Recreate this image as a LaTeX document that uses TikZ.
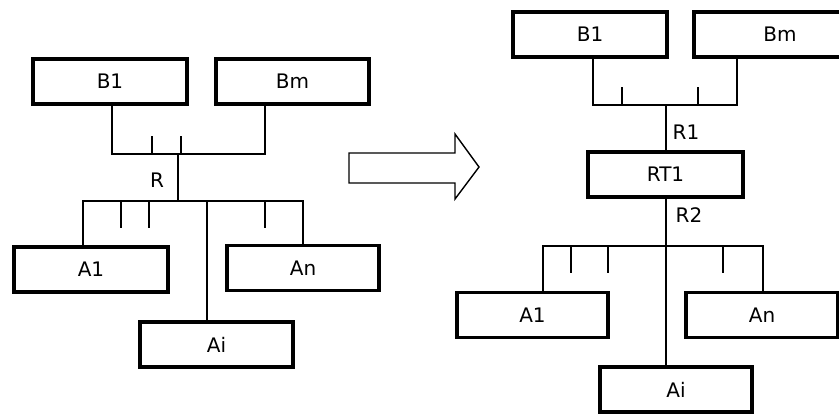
\documentclass[tikz,border=0pt]{standalone}
\usepackage{fontspec}
\newfontfamily\diagfont{DejaVu Sans}
\usetikzlibrary{positioning, calc}
\tikzset{
  box/.style={draw, line width=3.2pt, minimum height=45pt, minimum width=#1,
              inner sep=0pt, font=\diagfont\fontsize{20}{24}\selectfont},
  box/.default=153pt,
  bus/.style={line width=1.2pt},
  stub/.style={line width=1.2pt},
  lbl/.style={font=\diagfont\fontsize{20}{24}\selectfont, inner sep=0pt},
}
\begin{document}
\begin{tikzpicture}[x=1pt, y=-1pt]
  \clip (0,0) rectangle (839,413);
  % before: one relay R between the B side and the A side
  \node[box=154pt] (lb1) at (110,81.5)  {B1};
  \node[box]       (lbm) at (292.5,81.5) {Bm};
  \node[box=154pt] (la1) at (91,269.5)  {A1};
  \node[box=152pt] (lan) at (303,268)   {An};
  \node[box]       (lai) at (216.5,344.5) {Ai};
  \coordinate (lbusB) at (178,154);
  \coordinate (lbusA) at (178,201);
  \draw[bus] ([xshift=2pt]lb1.south) |- (lbusB) -| ([xshift=-27.5pt]lbm.south);
  \foreach \dx in {-26,3}
    \draw[stub] ([xshift=\dx pt]lbusB) -- ++(0,-18);
  \draw[bus] (lbusB) -- (lbusA);
  \node[lbl] (lr) at (157,180) {R};
  \draw[bus] ([xshift=-8pt]la1.north) |- (lbusA) -| (lan.north);
  \foreach \dx in {-57,-29,87}
    \draw[stub] ([xshift=\dx pt]lbusA) -- ++(0,27);
  \draw[bus] ([xshift=-9.5pt]lai.north) -- ([xshift=-9.5pt]lai.north |- lbusA);

  % the arrow
  \draw[line width=1.4pt, line join=miter] (349,153) -- (455,153) -- (455,134)
    -- (479,167) -- (455,199) -- (455,183) -- (349,183) -- cycle;

  % after: relay split into R1, RT1, R2
  \node[box=154pt] (rb1) at (590,34.5)   {B1};
  \node[box=172pt] (rbm) at (780,34.5)   {Bm};
  \node[box=155pt] (rt1) at (665.5,174.5) {RT1};
  \node[box=151pt] (ra1) at (532.5,315)  {A1};
  \node[box=152pt] (ran) at (762,315)    {An};
  \node[box=152pt] (rai) at (676,389.5)  {Ai};
  \coordinate (rbusB) at (666,105);
  \coordinate (rbusA) at (666,246);
  \draw[bus] ([xshift=3pt]rb1.south) |- (rbusB) -| ([xshift=-43pt]rbm.south);
  \foreach \dx in {-44,32}
    \draw[stub] ([xshift=\dx pt]rbusB) -- ++(0,-18);
  \draw[bus] (rbusB) -- (rbusB |- rt1.north);
  \node[lbl] (rr1) at (686,132) {R1};
  \draw[bus] (rbusA |- rt1.south) -- (rbusA);
  \node[lbl] (rr2) at (689,215) {R2};
  \draw[bus] ([xshift=10.5pt]ra1.north) |- (rbusA) -| ([xshift=1pt]ran.north);
  \foreach \dx in {-95,-58,57}
    \draw[stub] ([xshift=\dx pt]rbusA) -- ++(0,27);
  \draw[bus] (rbusA) -- ([xshift=-10pt]rai.north);
\end{tikzpicture}
\end{document}
